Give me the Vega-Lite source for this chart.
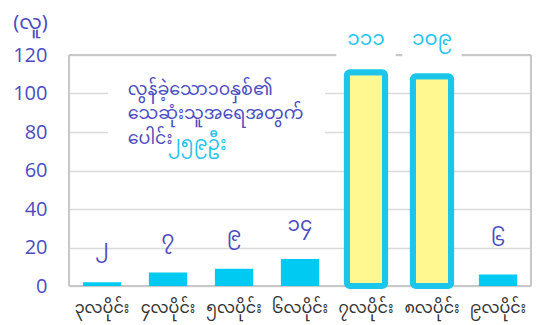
{
  "$schema": "https://vega.github.io/schema/vega-lite/v6.json",
  "width": 462,
  "height": 231,
  "autosize": {"type": "none"},
  "padding": {"left": 69, "top": 55, "right": 15, "bottom": 39},
  "background": "white",
  "config": {"view": {"stroke": null}, "font": "Noto Sans Myanmar, Noto Sans, sans-serif",
    "axisY": {"values": [0, 20, 40, 60, 80, 100, 120], "tickCount": 7, "labelOverlap": false, "ticks": false, "domain": false, "gridColor": "#dadada", "gridWidth": 1.5,
      "labelColor": "#4B4DBF", "labelFontSize": 20, "labelPadding": 22, "labelFont": "Open Sans",
      "titleAngle": 0, "titleX": -39, "titleY": -27, "titleAlign": "center", "titleBaseline": "alphabetic",
      "titleColor": "#4B4DBF", "titleFontSize": 20, "titleFontWeight": "normal"}},
  "datasets": {
    "months": [
      {"month": "၃လပိုင်း", "deaths": 2, "label": "၂", "hl": "no"},
      {"month": "၄လပိုင်း", "deaths": 7, "label": "၇", "hl": "no"},
      {"month": "၅လပိုင်း", "deaths": 9, "label": "၉", "hl": "no"},
      {"month": "၆လပိုင်း", "deaths": 14, "label": "၁၄", "hl": "no"},
      {"month": "၇လပိုင်း", "deaths": 111, "label": "၁၁၁", "hl": "yes"},
      {"month": "၈လပိုင်း", "deaths": 109, "label": "၁၀၉", "hl": "yes"},
      {"month": "၉လပိုင်း", "deaths": 6, "label": "၆", "hl": "no"}
    ],
    "frame": [
      {"x1": 0, "x2": 0, "y1": 0, "y2": 120},
      {"x1": 7, "x2": 7, "y1": 0, "y2": 120},
      {"x1": 0, "x2": 7, "y1": 120, "y2": 120},
      {"x1": 0, "x2": 7, "y1": 0, "y2": 0}
    ],
    "note": [
      {"x1": 0.59, "x2": 3.88, "y1": 65.5, "y2": 114.8}
    ],
    "noteText": [
      {"x": 0.89, "y": 102, "text": "လွန်ခဲ့သော၁၀နှစ်၏", "kind": "plain"},
      {"x": 0.89, "y": 89.5, "text": "သေဆုံးသူအရေအတွက်", "kind": "plain"},
      {"x": 0.89, "y": 76.5, "text": "ပေါင်း", "kind": "plain"},
      {"x": 1.5, "y": 74, "text": "၂၅၉ဦး", "kind": "big"}
    ]
  },
  "resolve": {"scale": {"x": "independent"}, "axis": {"x": "independent"}},
  "layer": [
    {
      "data": {"name": "frame"},
      "mark": {"type": "rule", "color": "#c8c8c8", "strokeWidth": 2},
      "encoding": {
        "x": {"field": "x1", "type": "quantitative", "scale": {"domain": [0, 7], "nice": false}, "axis": null},
        "x2": {"field": "x2"},
        "y": {"field": "y1", "type": "quantitative", "scale": {"domain": [0, 120], "nice": false}, "title": "(လူ)",
          "axis": {"values": [0, 20, 40, 60, 80, 100, 120], "labelOverlap": false}},
        "y2": {"field": "y2"}
      }
    },
    {
      "data": {"name": "months"},
      "layer": [
        {
          "transform": [{"filter": "datum.hl === 'no'"}],
          "mark": {"type": "bar", "color": "#00C9F2", "width": {"band": 0.58}},
          "encoding": {
            "x": {"field": "month", "type": "nominal", "sort": null, "title": null,
              "scale": {"domain": ["၃လပိုင်း", "၄လပိုင်း", "၅လပိုင်း", "၆လပိုင်း", "၇လပိုင်း", "၈လပိုင်း", "၉လပိုင်း"], "paddingInner": 0, "paddingOuter": 0},
              "axis": {"title": null, "labelAngle": 0, "ticks": false, "domain": false, "labelFontSize": 16, "labelColor": "#333333", "labelPadding": 13}},
            "y": {"field": "deaths", "type": "quantitative", "scale": {"domain": [0, 120], "nice": false}, "title": "(လူ)",
              "axis": {"values": [0, 20, 40, 60, 80, 100, 120], "labelOverlap": false}}
          }
        },
        {
          "transform": [{"filter": "datum.hl === 'yes'"}],
          "mark": {"type": "bar", "color": "#FFF78F", "stroke": "#1CC6EA", "strokeWidth": 6, "cornerRadius": 3, "width": {"band": 0.58}},
          "encoding": {
            "x": {"field": "month", "type": "nominal", "sort": null, "title": null},
            "y": {"field": "deaths", "type": "quantitative", "scale": {"domain": [0, 120], "nice": false}, "title": "(လူ)"}
          }
        },
        {
          "transform": [{"filter": "datum.hl === 'yes'"}],
          "mark": {"type": "bar", "color": "white", "width": {"band": 0.9}},
          "encoding": {
            "x": {"field": "month", "type": "nominal", "sort": null, "title": null},
            "y": {"datum": 116, "type": "quantitative", "scale": {"domain": [0, 120], "nice": false}, "title": "(လူ)"},
            "y2": {"datum": 134}
          }
        },
        {
          "transform": [{"filter": "datum.hl === 'yes'"}],
          "mark": {"type": "text", "color": "#29C4EC", "fontSize": 20, "baseline": "middle"},
          "encoding": {
            "x": {"field": "month", "type": "nominal", "sort": null, "title": null},
            "y": {"datum": 128.5, "type": "quantitative", "scale": {"domain": [0, 120], "nice": false}, "title": "(လူ)"},
            "text": {"field": "label"}
          }
        },
        {
          "transform": [{"filter": "datum.hl === 'no'"}],
          "mark": {"type": "text", "color": "#4B4DBF", "fontSize": 20, "baseline": "bottom", "dy": -24},
          "encoding": {
            "x": {"field": "month", "type": "nominal", "sort": null, "title": null},
            "y": {"field": "deaths", "type": "quantitative", "scale": {"domain": [0, 120], "nice": false}, "title": "(လူ)"},
            "text": {"field": "label"}
          }
        }
      ]
    },
    {
      "data": {"name": "note"},
      "mark": {"type": "rect", "color": "white"},
      "encoding": {
        "x": {"field": "x1", "type": "quantitative", "scale": {"domain": [0, 7], "nice": false}, "axis": null},
        "x2": {"field": "x2"},
        "y": {"field": "y1", "type": "quantitative", "scale": {"domain": [0, 120], "nice": false}, "title": "(လူ)"},
        "y2": {"field": "y2"}
      }
    },
    {
      "data": {"name": "noteText"},
      "mark": {"type": "text", "align": "left", "baseline": "middle"},
      "encoding": {
        "x": {"field": "x", "type": "quantitative", "scale": {"domain": [0, 7], "nice": false}, "axis": null},
        "y": {"field": "y", "type": "quantitative", "scale": {"domain": [0, 120], "nice": false}, "title": "(လူ)"},
        "text": {"field": "text"},
        "color": {"field": "kind", "type": "nominal", "scale": {"domain": ["plain", "big"], "range": ["#4B4DBF", "#29C4EC"]}, "legend": null},
        "size": {"field": "kind", "type": "nominal", "scale": {"domain": ["plain", "big"], "range": [17.5, 19]}, "legend": null}
      }
    }
  ]
}
